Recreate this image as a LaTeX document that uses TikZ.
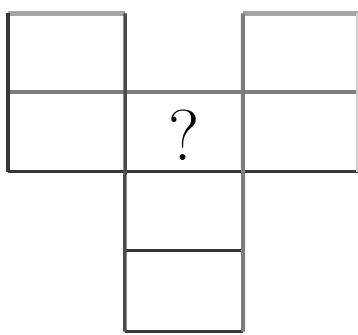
\documentclass[tikz,border=0pt]{standalone}
\begin{document}
\begin{tikzpicture}[x=1pt,y=1pt,
  cell/.style={inner sep=0pt, minimum height=79pt},
  dk/.style={line width=3.5pt, draw={rgb,255:red,55;green,55;blue,55}},
  md/.style={line width=4pt, draw={rgb,255:red,125;green,125;blue,125}},
  lt/.style={line width=4.5pt, draw={rgb,255:red,165;green,165;blue,165}},
  fa/.style={line width=2pt, draw={rgb,255:red,205;green,205;blue,205}}]
\useasboundingbox (0,0) rectangle (358,334);
\fill[white] (0,0) rectangle (358,334);
\node[cell, minimum width=117pt] (tl) at (66.5,281) {};
\node[cell, minimum width=115pt] (tr) at (300.5,281) {};
\node[cell, minimum width=117pt] (ml) at (66.5,202) {};
\node[cell, minimum width=118pt] (mc) at (184,202) {};
\node[font=\fontsize{72}{72}\selectfont, inner sep=0pt] (q) at ([yshift=-3pt]mc.center) {?};
\node[cell, minimum width=115pt] (mr) at (300.5,202) {};
\node[cell, minimum width=118pt] (b1) at (184,123) {};
\node[cell, minimum width=118pt] (b2) at (184,42) {};
% top edges
\draw[lt] (tl.north west) -- (tl.north east);
\draw[lt] (tr.north west) -- (tr.north east);
% horizontals
\draw[md] (ml.north west) -- (mr.north east);
\draw[dk] (ml.south west) -- (mr.south east);
\draw[dk] (b1.south west) -- (b1.south east);
\draw[dk] (b2.south west) -- (b2.south east);
% verticals
\draw[dk] (tl.north west) -- (ml.south west);
\draw[line width=3.5pt, draw={rgb,255:red,75;green,75;blue,75}] (tl.north east) -- (b2.south west);
\draw[md] (tr.north west) -- (b2.south east);
\draw[fa] ([xshift=-1.5pt]tr.north east) -- ([xshift=-1.5pt]mr.south east);
\end{tikzpicture}
\end{document}
